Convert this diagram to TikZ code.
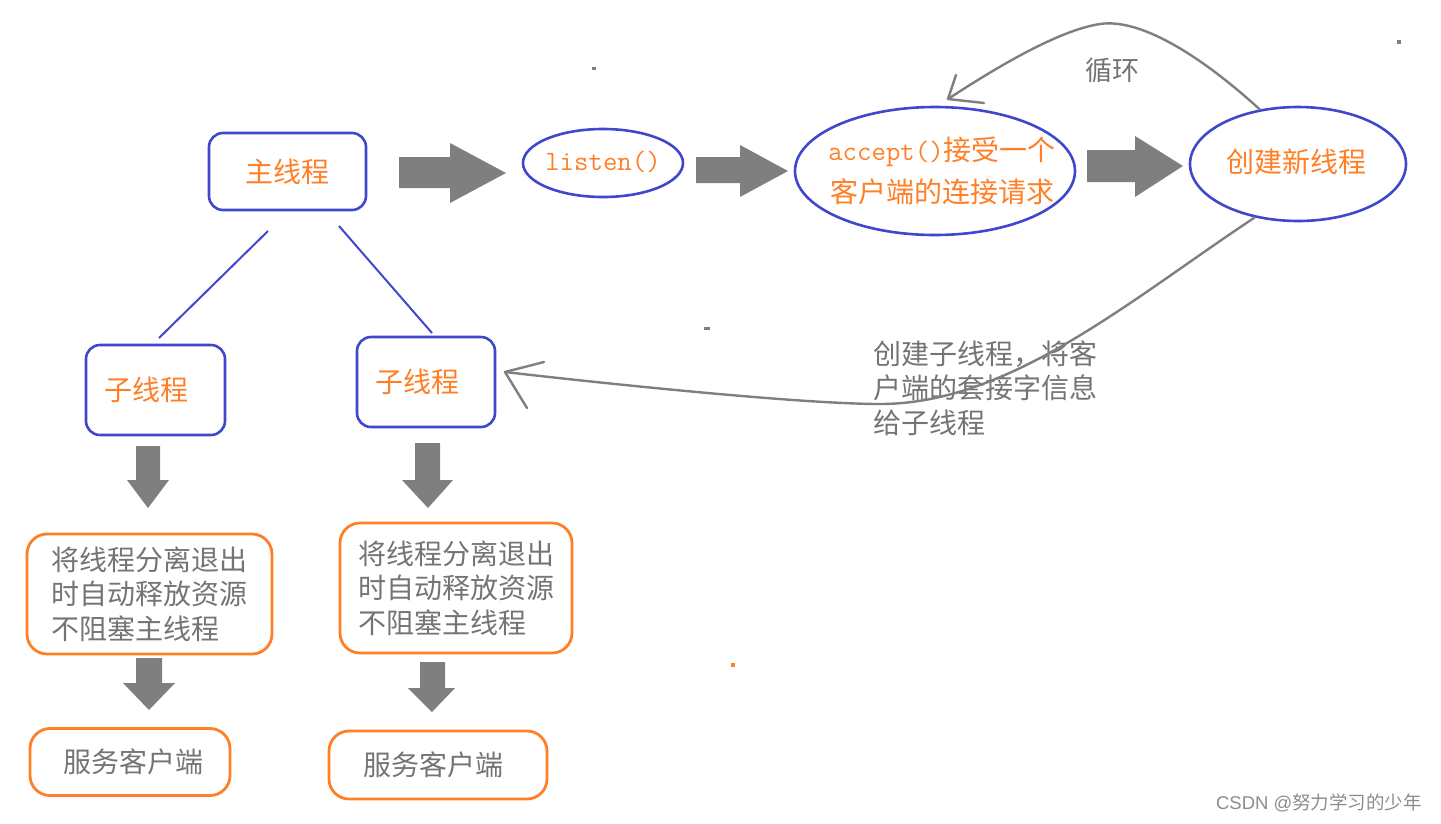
\documentclass[tikz,border=0pt]{standalone}
\usepackage{fontspec}
\setmainfont{Noto Sans CJK SC}
\newfontfamily\wmlatin{Liberation Sans}
\usetikzlibrary{shapes.geometric}
\definecolor{pblue}{HTML}{3F48CC}
\definecolor{porange}{HTML}{FF7F27}
\definecolor{pgray}{HTML}{7F7F7F}
\definecolor{tgray}{HTML}{747474}
\definecolor{wmgray}{HTML}{8C8C8C}
\newcommand\cjkbig{\fontsize{28}{34.5}\selectfont}
\newcommand\monobig{\ttfamily\fontsize{28}{34}\selectfont}
\begin{document}
\begin{tikzpicture}[x=1pt,y=-1pt,
  bluebox/.style={draw=pblue, line width=2.6pt, rounded corners=14pt, inner sep=0pt, text=porange, font=\cjkbig},
  blueell/.style={draw=pblue, line width=2.6pt, ellipse, inner sep=0pt},
  elltext/.style={text=porange, font=\cjkbig, align=center, inner sep=0pt},
  orbox/.style={draw=porange, line width=2.8pt, rounded corners=20pt, inner sep=0pt, text=tgray, font=\cjkbig, align=left},
  fat/.style={fill=pgray, draw=none},
  conn/.style={draw=pgray, line width=2.4pt, line cap=round, line join=round},
  bline/.style={draw=pblue, line width=2pt},
  note/.style={text=tgray, font=\cjkbig, align=left, inner sep=0pt},
  speck/.style={fill=#1, draw=none}
]
\useasboundingbox (0,0) rectangle (1441,823);

% top row
\node[bluebox, minimum width=157pt, minimum height=77pt] (ms) at (287.5,171.5) {主线程};
\node[blueell, minimum width=160pt, minimum height=68pt] (ls) at (603,163) {};
\node[elltext, font=\monobig] (lst) at (603,162) {listen()};
\node[blueell, minimum width=280pt, minimum height=128pt] (ac) at (935,171) {};
\node[elltext, font=\fontsize{28}{42}\selectfont] (act) at (942,171) {{\monobig accept()}接受一个\\客户端的连接请求};
\node[blueell, minimum width=216pt, minimum height=114pt] (nt) at (1298,164) {};
\node[elltext] (ntt) at (1296,162) {创建新线程};

% fat right arrows
\fill[fat] (399,157) -- (450,157) -- (450,143) -- (506,173) -- (450,203) -- (450,188) -- (399,188) -- cycle;
\fill[fat] (696,157) -- (740,157) -- (740,145) -- (788,171) -- (740,197) -- (740,183) -- (696,183) -- cycle;
\fill[fat] (1087,150) -- (1135,150) -- (1135,136) -- (1183,166) -- (1135,197) -- (1135,182) -- (1087,182) -- cycle;

% loop arrow
\coordinate (looptip) at (948,99);
\coordinate (loopb1) at (956,75);
\coordinate (loopb2) at (984,103);
\draw[conn] (nt.125) .. controls (1200,55) and (1140,18) .. (1100,24)
  .. controls (1060,30) and (1000,65) .. (looptip);
\draw[conn] (loopb1) -- (looptip) -- (loopb2);
\node[text=tgray, font=\fontsize{27}{30}\selectfont, inner sep=0pt] (lp) at (1112,70) {循环};

% children
\node[bluebox, minimum width=139pt, minimum height=90pt] (c1) at (155.5,390) {\kern-18pt 子线程};
\node[bluebox, minimum width=138pt, minimum height=90pt] (c2) at (426,382) {\kern-18pt 子线程};
\coordinate (l1a) at (268,231);
\coordinate (l1b) at (159,338);
\coordinate (l2a) at (339,226);
\coordinate (l2b) at (432,333);
\draw[bline] (l1a) -- (l1b);
\draw[bline] (l2a) -- (l2b);

% note text
\node[note, anchor=west] (nb) at (873,388) {创建子线程，将客\\户端的套接字信息\\给子线程};

% create-child arrow
\coordinate (subtip) at (505,372);
\coordinate (subb1) at (544,362);
\coordinate (subb2) at (527,408);
\draw[conn] (nt.231) .. controls (1130,300) and (1010,404) .. (880,404)
  .. controls (800,404) and (600,383) .. (subtip);
\draw[conn] (subb1) -- (subtip) -- (subb2);

% detach boxes
\node[orbox, minimum width=245pt, minimum height=120pt] (d1) at (149.5,594) {将线程分离退出\\时自动释放资源\\不阻塞主线程};
\node[orbox, minimum width=232pt, minimum height=130pt] (d2) at (456,588) {将线程分离退出\\时自动释放资源\\不阻塞主线程};

% serve boxes
\node[orbox, minimum width=200pt, minimum height=67pt] (s1) at (130,762) {\kern6pt 服务客户端};
\node[orbox, minimum width=218pt, minimum height=68pt] (s2) at (438,765) {服务客户端\kern10pt};

% fat down arrows
\fill[fat] (136,446) -- (160,446) -- (160,480) -- (169,480) -- (148,508) -- (127,480) -- (136,480) -- cycle;
\fill[fat] (415,443) -- (440,443) -- (440,480) -- (453,480) -- (428,508) -- (402,480) -- (415,480) -- cycle;
\fill[fat] (136,658) -- (162,658) -- (162,683) -- (175,683) -- (149,710) -- (123,683) -- (136,683) -- cycle;
\fill[fat] (420,662) -- (445,662) -- (445,688) -- (455,688) -- (432,712) -- (408,688) -- (420,688) -- cycle;

% specks
\fill[speck=pgray] (592,67) rectangle (596,70);
\fill[speck=pgray] (1397,40) rectangle (1401,44);
\fill[speck=pgray] (704,327) rectangle (710,330);
\fill[speck=porange] (731,663) rectangle (735,667);

% watermark
\node[text=wmgray, font=\fontsize{18.5}{21}\selectfont, inner sep=0pt] (wm) at (1319,803) {{\wmlatin CSDN @}努力学习的少年};
\end{tikzpicture}
\end{document}
